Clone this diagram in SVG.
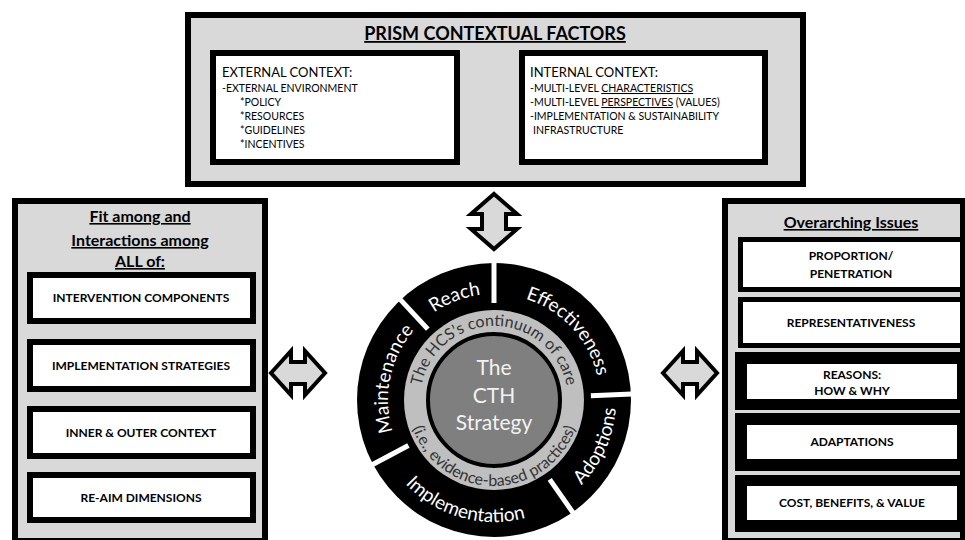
<svg xmlns="http://www.w3.org/2000/svg" width="965" height="540" viewBox="0 0 965 540">
<style>
.panel{fill:#d9d9d9;stroke:#000;stroke-width:6}
.wbox{fill:#fff;stroke:#000;stroke-width:6}
.wbox5{fill:#fff;stroke:#000;stroke-width:5}
.blk{fill:#000}
.wht{fill:#fff}
.arrow{fill:#d9d9d9;stroke:#000;stroke-width:4;stroke-linejoin:miter}
.t{font-family:Lato,"Liberation Sans",sans-serif;fill:#000}
.b{font-weight:bold}
.u{text-decoration:underline}
.lbl{font-family:Lato,"Liberation Sans",sans-serif;font-weight:bold;font-size:12px;text-anchor:middle;fill:#000}
.ring{font-family:Lato,"Liberation Sans",sans-serif;font-size:19px;fill:#fff}
.inner{font-family:Lato,"Liberation Sans",sans-serif;font-size:16px;fill:#333}
.ctr{font-family:Lato,"Liberation Sans",sans-serif;font-size:21px;fill:#f2f2f2;text-anchor:middle}
.div{stroke:#fff;stroke-width:5}
</style>
<defs>
<path id="oCW" d="M 494 506 A 106 106 0 1 1 494 294 A 106 106 0 1 1 494 506"/>
<path id="oCCW" d="M 494 278 A 122 122 0 1 0 494 522 A 122 122 0 1 0 494 278"/>
<path id="iCW" d="M 494 474 A 74 74 0 1 1 494 326 A 74 74 0 1 1 494 474"/>
<path id="iCCW" d="M 494 314 A 86 86 0 1 0 494 486 A 86 86 0 1 0 494 314"/>
</defs>

<g id="prism">
<rect class="panel" x="188" y="15" width="615" height="169"/>
<text class="t b u" x="495" y="40" font-size="18" text-anchor="middle">PRISM CONTEXTUAL FACTORS</text>
</g>
<g id="external">
<rect class="wbox" x="213" y="53" width="244" height="109"/>
<text class="t" x="222" y="77" font-size="13">EXTERNAL CONTEXT:</text>
<text class="t" x="222" y="92" font-size="10.5">-EXTERNAL ENVIRONMENT</text>
<text class="t" x="240" y="106" font-size="10.5">*POLICY</text>
<text class="t" x="240" y="120" font-size="10.5">*RESOURCES</text>
<text class="t" x="240" y="134" font-size="10.5">*GUIDELINES</text>
<text class="t" x="240" y="148" font-size="10.5">*INCENTIVES</text>
</g>
<g id="internal">
<rect class="wbox" x="522" y="53" width="243" height="109"/>
<text class="t" x="530" y="77" font-size="13">INTERNAL CONTEXT:</text>
<text class="t" x="530" y="92" font-size="10.5">-MULTI-LEVEL <tspan class="u">CHARACTERISTICS</tspan></text>
<text class="t" x="530" y="106" font-size="10.5">-MULTI-LEVEL <tspan class="u">PERSPECTIVES</tspan> (VALUES)</text>
<text class="t" x="530" y="120" font-size="10.5">-IMPLEMENTATION &amp; SUSTAINABILITY</text>
<text class="t" x="533" y="134" font-size="10.5">INFRASTRUCTURE</text>
</g>

<g id="fit-panel">
<rect class="panel" x="15" y="201" width="250" height="340"/>
<text class="t b u" x="140" y="222" font-size="16" text-anchor="middle">Fit among and</text>
<text class="t b u" x="140" y="246" font-size="16" text-anchor="middle">Interactions among</text>
<text class="t b u" x="140" y="267" font-size="16" text-anchor="middle">ALL of:</text>
</g>
<g id="intervention-components">
<rect class="wbox" x="30" y="275" width="223" height="46"/>
<text class="lbl" x="141" y="302">INTERVENTION COMPONENTS</text>
</g>
<g id="implementation-strategies">
<rect class="wbox" x="30" y="342" width="223" height="47"/>
<text class="lbl" x="141" y="370">IMPLEMENTATION STRATEGIES</text>
</g>
<g id="inner-outer-context">
<rect class="wbox" x="30" y="409" width="223" height="47"/>
<text class="lbl" x="141" y="437">INNER &amp; OUTER CONTEXT</text>
</g>
<g id="re-aim-dimensions">
<rect class="wbox" x="30" y="475" width="223" height="45"/>
<text class="lbl" x="141" y="502">RE-AIM DIMENSIONS</text>
</g>

<g id="overarching-panel">
<rect class="panel" x="725" y="201" width="238" height="340"/>
<text class="t b u" x="851" y="228" font-size="16" text-anchor="middle">Overarching Issues</text>
</g>
<g id="proportion">
<rect class="wbox5" x="740.5" y="239.5" width="222" height="50"/>
<text class="lbl" x="851" y="260">PROPORTION/</text>
<text class="lbl" x="851" y="278">PENETRATION</text>
</g>
<g id="representativeness">
<rect class="wbox5" x="740.5" y="299.5" width="222" height="46"/>
<text class="lbl" x="851" y="327">REPRESENTATIVENESS</text>
</g>
<g id="reasons">
<rect class="blk" x="735" y="352" width="230" height="58"/>
<rect class="wht" x="747" y="364" width="210" height="35"/>
<text class="lbl" x="852" y="379">REASONS:</text>
<text class="lbl" x="852" y="395">HOW &amp; WHY</text>
</g>
<g id="adaptations">
<rect class="blk" x="735" y="413" width="230" height="58"/>
<rect class="wht" x="747" y="425" width="210" height="34"/>
<text class="lbl" x="852" y="446">ADAPTATIONS</text>
</g>
<g id="cost">
<rect class="blk" x="735" y="475" width="230" height="57"/>
<rect class="wht" x="747" y="486" width="210" height="34"/>
<text class="lbl" x="852" y="507">COST, BENEFITS, &amp; VALUE</text>
</g>

<g id="re-aim-wheel">
<circle cx="494" cy="400" r="137" fill="#000"/>
<circle cx="494" cy="400" r="90" fill="#bfbfbf"/>
<circle cx="494" cy="400" r="66" fill="#7f7f7f" stroke="#000" stroke-width="4"/>
<line class="div" x1="494" y1="303" x2="494" y2="262"/>
<line class="div" x1="427.8" y1="329.1" x2="399.9" y2="299.1"/>
<line class="div" x1="590.9" y1="395.8" x2="631.9" y2="394"/>
<line class="div" x1="549.7" y1="479.4" x2="573.2" y2="513"/>
<line class="div" x1="408.4" y1="445.5" x2="372.2" y2="464.7"/>
<text class="ring" text-anchor="middle"><textPath href="#oCW" startOffset="28.3%">Maintenance</textPath></text>
<text class="ring" text-anchor="middle"><textPath href="#oCW" startOffset="44.2%">Reach</textPath></text>
<text class="ring" text-anchor="middle"><textPath href="#oCW" startOffset="63.1%">Effectiveness</textPath></text>
<text class="ring" text-anchor="middle"><textPath href="#oCCW" startOffset="45.6%">Implementation</textPath></text>
<text class="ring" text-anchor="middle"><textPath href="#oCCW" startOffset="68.3%">Adoptions</textPath></text>
<text class="inner" text-anchor="middle"><textPath href="#iCW" startOffset="50%">The HCS’s continuum of care</textPath></text>
<text class="inner" text-anchor="middle" font-size="17"><textPath href="#iCCW" startOffset="50%">(i.e., evidence-based practices)</textPath></text>
</g>
<g id="cth-strategy">
<text class="ctr" x="494" y="375">The</text>
<text class="ctr" x="494" y="403">CTH</text>
<text class="ctr" x="494" y="430">Strategy</text>
</g>

<g id="connectors">
<polygon class="arrow" points="494,194 517,214 506,214 506,229 517,229 494,249 471,229 482,229 482,214 471,214"/>
<polygon class="arrow" points="271,373 291,351 291,362 305,362 305,351 325,373 305,395 305,384 291,384 291,395"/>
<polygon class="arrow" points="663,373 683,351 683,362 697,362 697,351 717,373 697,395 697,384 683,384 683,395"/>
</g>
</svg>
